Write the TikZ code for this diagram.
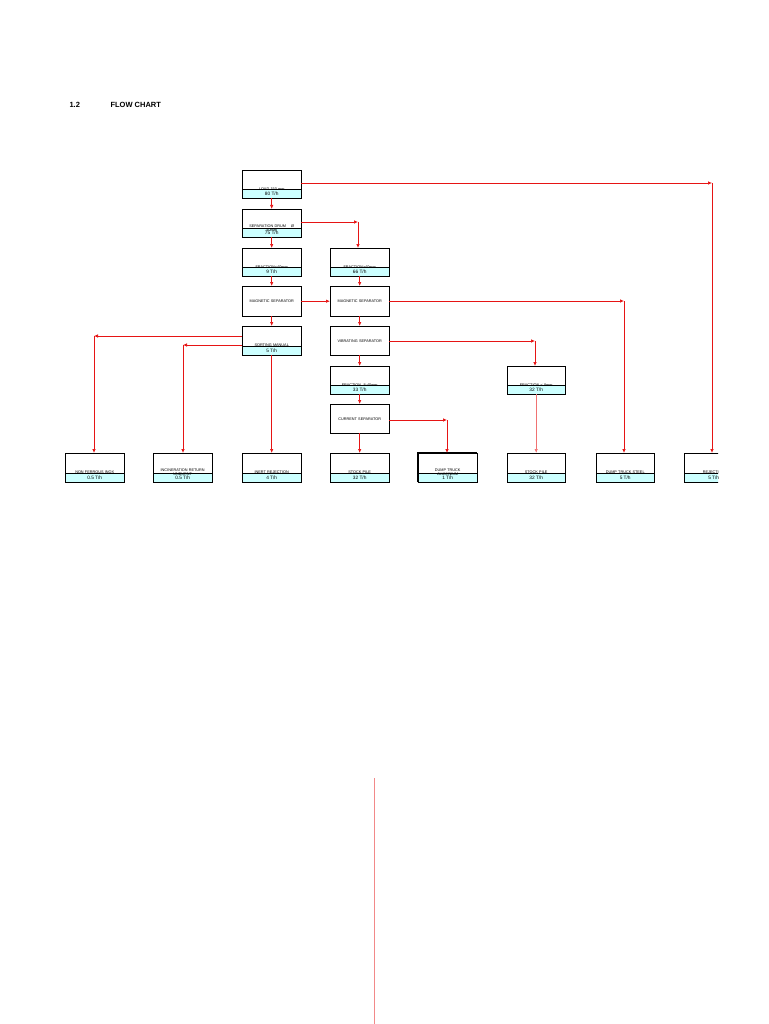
\documentclass[tikz,border=0pt]{standalone}
\usepackage{fontspec}
\setmainfont{Liberation Sans}
\usetikzlibrary{arrows.meta}
\definecolor{cyanv}{RGB}{204,255,255}
\definecolor{flowred}{RGB}{230,20,20}
\begin{document}
\begin{tikzpicture}[x=1pt,y=-1pt,
  box/.style={draw=none,fill=white,inner sep=0pt,anchor=north west},
  lbl/.style={font=\fontsize{3.8}{4.4}\selectfont,align=center,inner sep=0pt,text width=56pt},
  flow/.style={draw=flowred,line width=0.7pt,-{Latex[length=4pt,width=3.5pt]}},
  seg/.style={draw=flowred,line width=0.7pt}]
\useasboundingbox (0,0) rectangle (768,1024);
\newcommand\bx[7]{%
  \node[box,minimum width=#4pt,minimum height=#5pt] (#1) at (#2,#3) {};
  \fill[cyanv] (#1.south west) rectangle ([yshift=9.5pt]#1.south east);
  \draw[line width=0.6pt] ([yshift=9.5pt]#1.south west) -- ([yshift=9.5pt]#1.south east);
  \draw[line width=0.9pt] (#1.south west) rectangle (#1.north east);
  \node[lbl] (#1t) at ([yshift=-4.75pt]#1.center) {#6};
  \node[lbl] (#1v) at ([yshift=4.75pt]#1.south) {\fontsize{4.8}{5}\selectfont #7};}
\newcommand\bxn[6]{%
  \node[box,minimum width=#4pt,minimum height=#5pt] (#1) at (#2,#3) {};
  \draw[line width=0.9pt] (#1.south west) rectangle (#1.north east);
  \node[lbl] (#1t) at (#1.center) {#6};}
\node[font=\bfseries\fontsize{7.5}{9}\selectfont,anchor=west] (h1) at (66,105) {1.2};
\node[font=\bfseries\fontsize{7.5}{9}\selectfont,anchor=west] (h2) at (107,105) {FLOW CHART};
% boxes
\bx{load}{242}{170}{59}{28}{LOAD 150 mm}{80 T/h}
\bx{drum}{242}{209}{59}{28}{SEPARATION DRUM \quad\O\\40mm}{75 T/h}
\bx{fa}{242}{248}{59}{28}{FRACTION<40mm}{9 T/h}
\bx{fb}{330}{248}{59}{28}{FRACTION>40mm}{66 T/h}
\bxn{ma}{242}{286}{59}{30}{MAGNETIC SEPARATOR}
\bxn{mb}{330}{286}{59}{30}{MAGNETIC SEPARATOR}
\bx{sort}{242}{326}{59}{29}{SORTING MANUAL}{5 T/h}
\bxn{vib}{330}{326}{59}{29}{VIBRATING SEPARATOR}
\bx{f840}{330}{366}{59}{28}{FRACTION \ 8-40mm}{33 T/h}
\bxn{cur}{330}{404}{59}{29}{CURRENT SEPARATOR}
\bx{f8}{507}{366}{58}{28}{FRACTION < 8mm}{32 T/h}
\bx{nf}{65}{453}{59}{29}{NON FERROUS INOX}{0.5 T/h}
\bx{inc}{153}{453}{59}{29}{INCINERATION RETURN\\UNBURNT}{0.5 T/h}
\bx{inert}{242}{453}{59}{29}{INERT REJECTION}{4 T/h}
\bx{sp1}{330}{453}{59}{29}{STOCK PILE}{32 T/h}
\bx{al}{418}{453}{59}{29}{DUMP TRUCK\\ALUMINIUM}{1 T/h}
\draw[line width=2pt] (al.south west) -- (al.north west) -- (al.north east);
\bx{sp2}{507}{453}{58}{29}{STOCK PILE}{32 T/h}
\bx{st}{596}{453}{58}{29}{DUMP TRUCK STEEL}{5 T/h}
\begin{scope}
\clip (0,0) rectangle (718,1024);
\bx{rej}{684}{453}{59}{29}{REJECTION}{5 T/h}
\end{scope}
% coordinates
\coordinate (c1) at (712,183);
\coordinate (c2) at (358,222);
\coordinate (c3) at (624,301);
\coordinate (c4) at (535,341);
\coordinate (c5) at (447,420);
\coordinate (c6) at (94,336);
\coordinate (c7) at (183,345);
\coordinate (v1) at (374,778);
\coordinate (v2) at (374,1024);
% connectors
\draw[flow] (load) -- (drum);
\draw[flow] (drum) -- (fa);
\draw[flow] (fa) -- (ma);
\draw[flow] (ma) -- (sort);
\draw[flow] (ma) -- (mb);
\draw[flow] (fb) -- (mb);
\draw[flow] (mb) -- (vib);
\draw[flow] (vib) -- (f840);
\draw[flow] (f840) -- (cur);
\draw[flow] (cur) -- (sp1);
\draw[flow] (load.east |- c1) -- (c1);
\draw[flow] (c1) -- (c1 |- rej.north);
\draw[flow] (drum.east |- c2) -- (c2);
\draw[flow] (c2) -- (c2 |- fb.north);
\draw[flow] (mb.east |- c3) -- (c3);
\draw[flow] (c3) -- (c3 |- st.north);
\draw[flow] (vib.east |- c4) -- (c4);
\draw[flow] (c4) -- (c4 |- f8.north);
\draw[flow] (cur.east |- c5) -- (c5);
\draw[flow] (c5) -- (c5 |- al.north);
\draw[flow] (sort.west |- c6) -- (c6);
\draw[flow] (c6) -- (c6 |- nf.north);
\draw[flow] (sort.west |- c7) -- (c7);
\draw[flow] (c7) -- (c7 |- inc.north);
\draw[flow] (sort) -- (inert);
\draw[flow,draw=flowred!60] (f8) -- (sp2);
\draw[seg,draw=flowred!50,line width=0.6pt] (v1) -- (v2);
\end{tikzpicture}
\end{document}
